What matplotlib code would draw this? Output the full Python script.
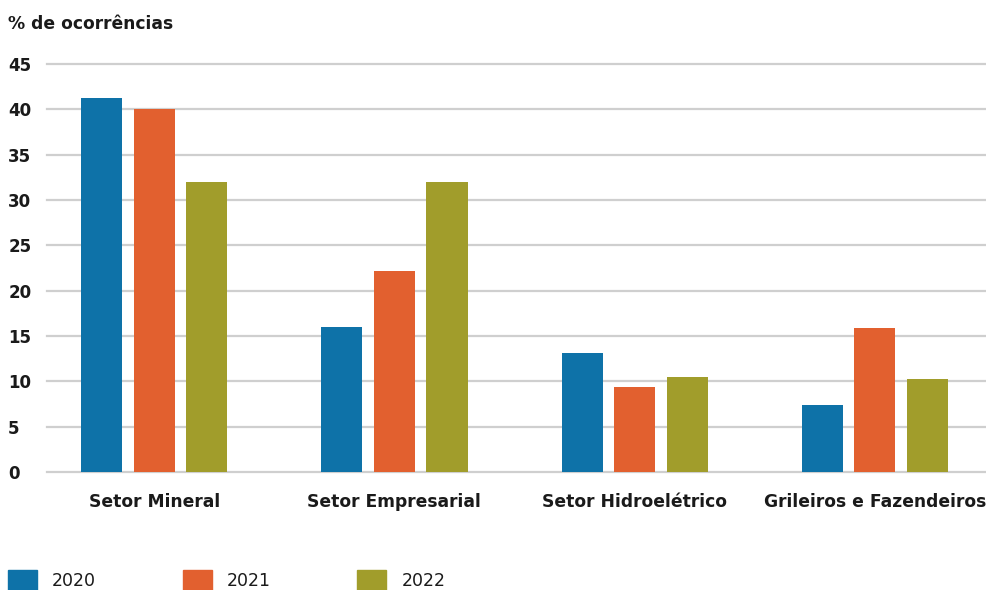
import matplotlib.pyplot as plt
import numpy as np
from matplotlib.patches import Patch

plt.rcParams['font.family'] = ['DejaVu Sans']

setores = ['Setor Mineral', 'Setor Empresarial', 'Setor Hidroelétrico',
           'Grileiros e Fazendeiros']
anos = ['2020', '2021', '2022']
v2020 = [41.3, 16.0, 13.1, 7.4]
v2021 = [40.0, 22.2, 9.4, 15.9]
v2022 = [32.0, 32.0, 10.5, 10.3]

cores = ['#0e72a8', '#e2602f', '#a19d2b']
serie = [v2020, v2021, v2022]

fig = plt.figure(figsize=(9.86, 5.9), dpi=100)
ax = fig.add_axes([0.0477, 0.2, 0.9523, 0.6915])

x = np.arange(len(setores))
largura = 0.171
passo = 0.219
for i, (vals, cor) in enumerate(zip(serie, cores)):
    ax.bar(x + (i - 1) * passo, vals, width=largura, color=cor, zorder=3)

ax.set_xlim(-0.446, 3.4625)
ax.set_ylim(0, 45)
ax.set_yticks(range(0, 50, 5))
ax.set_yticklabels([str(v) for v in range(0, 50, 5)], ha='left',
                   fontsize=12, fontweight='bold', color='#1a1a1a')
ax.set_xticks(x)
ax.set_xticklabels(setores, fontsize=12.3, fontweight='bold', color='#1a1a1a')
ax.tick_params(axis='y', length=0, pad=28)
ax.tick_params(axis='x', length=0, pad=15)

ax.grid(axis='y', color='#cfcfcf', linewidth=1.6, zorder=0)
for s in ax.spines.values():
    s.set_visible(False)
for ln in ax.get_ygridlines():
    ln.set_clip_on(False)

fig.text(0.008, 1 - 24 / 590, '% de ocorrências', fontsize=12.3,
         fontweight='bold', color='#1a1a1a', va='center', ha='left')

handles = [Patch(color=c, label=a) for c, a in zip(cores, anos)]
fig.legend(handles=handles, loc='center left',
           bbox_to_anchor=(0.008, 1 - 580 / 590), ncol=3, frameon=False,
           fontsize=12.5, handlelength=1.67, handleheight=1.4,
           handletextpad=0.86, columnspacing=5.0, borderpad=0,
           borderaxespad=0, labelcolor='#1a1a1a')

fig.savefig('out.png', dpi=100)
